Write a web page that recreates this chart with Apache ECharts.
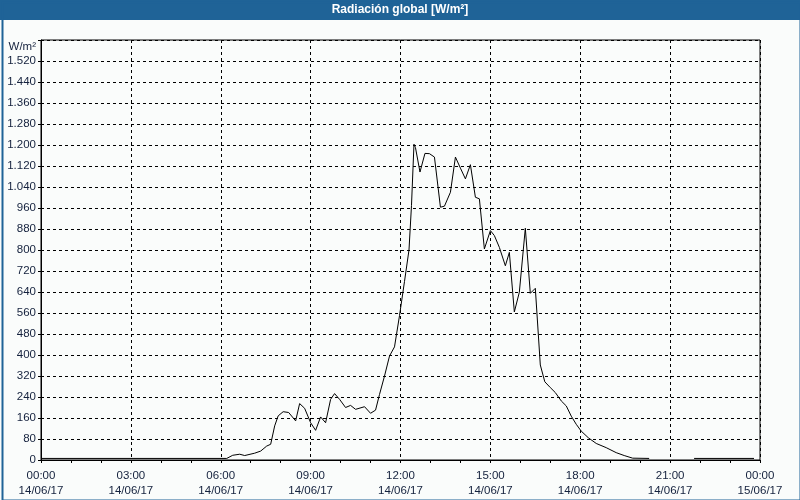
<!DOCTYPE html>
<html>
<head>
<meta charset="utf-8">
<script src="https://cdn.jsdelivr.net/npm/echarts@6/dist/echarts.min.js"></script>
<style>
html,body{margin:0;padding:0;background:#fafcfb;}
#chart{width:800px;height:500px;}
</style>
</head>
<body>
<div id="chart"></div>
<script>
// Chart title and units
const titleText = 'Radiación global [W/m²]';
const unitLabel = 'W/m²';
// X tick labels (every 3 hours)
const xTickTimes = ['00:00','03:00','06:00','09:00','12:00','15:00','18:00','21:00','00:00'];
const xTickDates = ['14/06/17','14/06/17','14/06/17','14/06/17','14/06/17','14/06/17','14/06/17','14/06/17','15/06/17'];
// Measurement times (HH:MM, 14/06/17) and values [W/m²]; '-' = no data
const times = ['00:00','06:12','06:24','06:38','06:48','07:08','07:20','07:32','07:40','07:48','07:55',
  '08:05','08:16','08:30','08:38','08:48','09:00','09:10','09:20','09:30','09:40','09:48','09:58',
  '10:10','10:20','10:30','10:48','11:00','11:10','11:18','11:28','11:38','11:48','11:58',
  '12:08','12:17','12:22','12:27','12:30','12:39','12:49','12:58','13:08','13:20','13:28','13:40',
  '13:50','14:00','14:10','14:20','14:30','14:38','14:48','15:00','15:08','15:18','15:30','15:38',
  '15:48','15:58','16:10','16:20','16:30','16:40','16:49','17:00','17:10','17:22','17:32','17:42',
  '17:52','18:02','18:16','18:32','18:52','19:12','19:28','19:45','20:18','21:00','21:48','23:48'];
const values = [6,6,18,22,17,26,34,53,60,130,168,
  184,181,149,215,197,142,113,164,142,231,253,231,
  200,208,193,203,178,190,250,320,396,431,550,
  680,800,970,1203,1190,1097,1168,1167,1154,963,967,1020,
  1154,1112,1071,1125,1001,995,804,874,855,810,740,791,
  564,639,883,635,654,362,298,276,257,225,206,167,
  136,110,85,63,47,28,17,7,6,'-',6,6];

function toMin(s){const p=s.split(':');return (+p[0])*60+(+p[1]);}
const seriesData = times.map((t,i)=>[toMin(t), values[i]]);

function fmtThousands(v){
  const s=String(v);
  return s.length>3 ? s.slice(0,s.length-3)+'.'+s.slice(-3) : s;
}

const chart = echarts.init(document.getElementById('chart'), null, {renderer:'canvas'});
const txtColor = '#14213d';
const fontFam = '"Liberation Sans", Arial, sans-serif';
chart.setOption({
  backgroundColor:'#fafcfb',
  animation:false,
  grid:{left:41,top:40,width:719,height:420,show:true,borderColor:'#000',borderWidth:1,backgroundColor:'transparent'},
  xAxis:{
    type:'value',min:0,max:1440,interval:180,
    axisLine:{show:true,lineStyle:{color:'#000',width:1}},
    axisTick:{show:true,length:3,lineStyle:{color:'#000'}},
    minorTick:{show:true,splitNumber:3,length:3,lineStyle:{color:'#000'}},
    splitLine:{show:true,lineStyle:{color:'#000',type:[3,3],width:1}},
    axisLabel:{
      color:txtColor,fontFamily:fontFam,fontSize:11.5,lineHeight:15,margin:8,
      formatter:function(v){const i=Math.round(v/180);return xTickTimes[i]+'\n'+xTickDates[i];}
    }
  },
  yAxis:{
    type:'value',min:0,max:1600,interval:80,
    axisLine:{show:true,lineStyle:{color:'#000',width:1}},
    axisTick:{show:true,length:3,lineStyle:{color:'#000'}},
    splitLine:{show:true,lineStyle:{color:'#000',type:[3,3],width:1}},
    axisLabel:{
      color:txtColor,fontFamily:fontFam,fontSize:11.5,margin:5,
      formatter:function(v){return v===1600?'{u|'+unitLabel+'}':fmtThousands(v);},
      rich:{u:{color:txtColor,fontFamily:fontFam,fontSize:11.5,padding:[14,0,0,0]}}
    }
  },
  series:[{
    type:'line',data:seriesData,showSymbol:false,connectNulls:false,
    lineStyle:{color:'#000',width:1},
    itemStyle:{color:'#000'}
  }],
  graphic:[
    {type:'rect',left:0,top:0,shape:{width:800,height:20},style:{fill:'#1f6397'},z:10},
    {type:'text',x:400,y:10,style:{text:titleText,fill:'#ffffff',font:'bold 12px '+fontFam,textAlign:'center',textVerticalAlign:'middle'},z:11},
    {type:'rect',left:0,top:0,shape:{x:1,y:1,width:798,height:498},style:{fill:'none',stroke:'#1f6397',lineWidth:2},z:10}
  ]
});
</script>
</body>
</html>
